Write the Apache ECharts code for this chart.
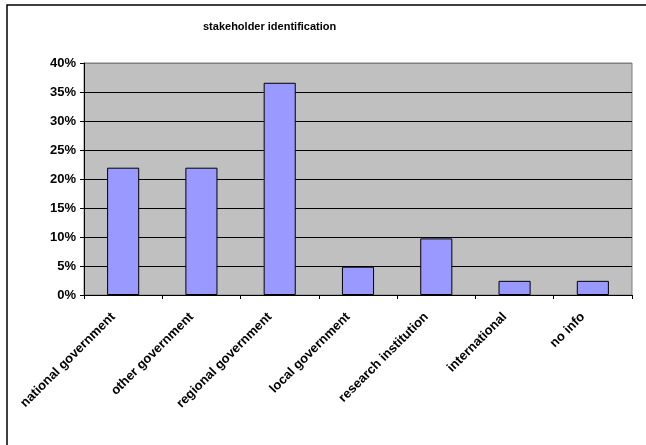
<!DOCTYPE html>
<html>
<head>
<meta charset="utf-8">
<script src="https://cdn.jsdelivr.net/npm/echarts@6/dist/echarts.min.js"></script>
<style>html,body{margin:0;padding:0;background:#fff}#c{width:646px;height:445px}</style>
</head>
<body>
<div id="c"></div>
<script>
const categories = ['national government','other government','regional government','local government','research institution','international','no info'];
const values = [21.95, 21.95, 36.59, 4.88, 9.76, 2.44, 2.44];
const yTicks = [0,5,10,15,20,25,30,35,40];

const chart = echarts.init(document.getElementById('c'), null, {renderer:'canvas'});
const font = '"Liberation Sans", Arial, sans-serif';
chart.setOption({
  animation:false,
  backgroundColor:'#fff',
  title:{text:'stakeholder identification', left:198, top:16,
    textStyle:{fontFamily:font, fontSize:11, fontWeight:'bold', color:'#000'}},
  graphic:[{type:'rect', shape:{x:7,y:5,width:700,height:500}, style:{fill:'none', stroke:'#000', lineWidth:1.5}}],
  grid:{left:84, right:14, top:63, bottom:150, show:true, backgroundColor:'#C0C0C0', borderColor:'#808080', borderWidth:1},
  xAxis:{type:'category', data:categories,
    axisLine:{lineStyle:{color:'#000'}},
    axisTick:{show:true, length:4, alignWithLabel:false, lineStyle:{color:'#000'}},
    axisLabel:{rotate:45, interval:0, margin:10, padding:[0,14,0,0], fontFamily:font, fontSize:13, fontWeight:'bold', color:'#000'}},
  yAxis:{type:'value', min:0, max:40, interval:5,
    axisLine:{show:true, lineStyle:{color:'#000'}},
    axisTick:{show:true, length:4, lineStyle:{color:'#000'}},
    axisLabel:{formatter:v=>v+'%', margin:8, fontFamily:font, fontSize:13, fontWeight:'bold', color:'#000'},
    splitLine:{show:true, lineStyle:{color:yTicks.map(t=>t===40?'#808080':'#000'), width:1}}},
  series:[{type:'bar', data:values, barWidth:'41%',
    itemStyle:{color:'#9999FF', borderColor:'#000', borderWidth:1}}]
});
</script>
</body>
</html>
